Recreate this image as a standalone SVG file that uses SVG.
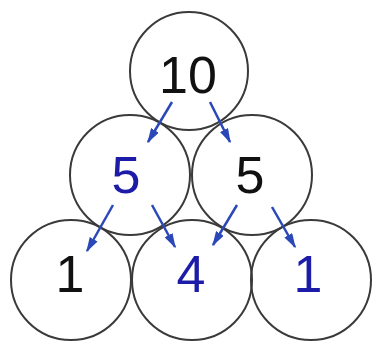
<svg xmlns="http://www.w3.org/2000/svg" width="372" height="342" viewBox="0 0 372 342">
<defs>
<style>
.c{fill:none;stroke:#3a3a3a;stroke-width:2}
.t{font-family:"Liberation Sans",Arial,sans-serif;font-size:52px;text-anchor:middle}
.k{fill:#111}
.b{fill:#1c1ca8}
.a{stroke:#2b48b8;stroke-width:2.5;fill:none;marker-end:url(#ah)}
</style>
<marker id="ah" viewBox="0 0 10 6" refX="9" refY="3" markerWidth="6" markerHeight="3.6" orient="auto" markerUnits="strokeWidth">
<path d="M0,0 L10,3 L0,6 z" fill="#2b48b8"/>
</marker>
</defs>
<rect width="372" height="342" fill="#fff"/>
<g id="n10"><circle class="c" cx="189" cy="71" r="59"/><text class="t k" x="188" y="93">10</text></g>
<g id="n5a"><circle class="c" cx="130" cy="175" r="60"/><text class="t b" x="126" y="193">5</text></g>
<g id="n5b"><circle class="c" cx="252" cy="175" r="60"/><text class="t k" x="250" y="193">5</text></g>
<g id="n1a"><circle class="c" cx="71" cy="280" r="60"/><text class="t k" x="70" y="292">1</text></g>
<g id="n4"><circle class="c" cx="192" cy="280" r="60"/><text class="t b" x="191" y="292">4</text></g>
<g id="n1b"><circle class="c" cx="311" cy="280" r="60"/><text class="t b" x="308" y="292">1</text></g>
<g id="connectors">
<line class="a" x1="172" y1="102" x2="148" y2="142"/>
<line class="a" x1="210" y1="102" x2="230" y2="142"/>
<line class="a" x1="113" y1="205" x2="87" y2="251"/>
<line class="a" x1="152" y1="205" x2="175" y2="247"/>
<line class="a" x1="237" y1="205" x2="213" y2="245"/>
<line class="a" x1="272" y1="207" x2="295" y2="247"/>
</g>
</svg>
